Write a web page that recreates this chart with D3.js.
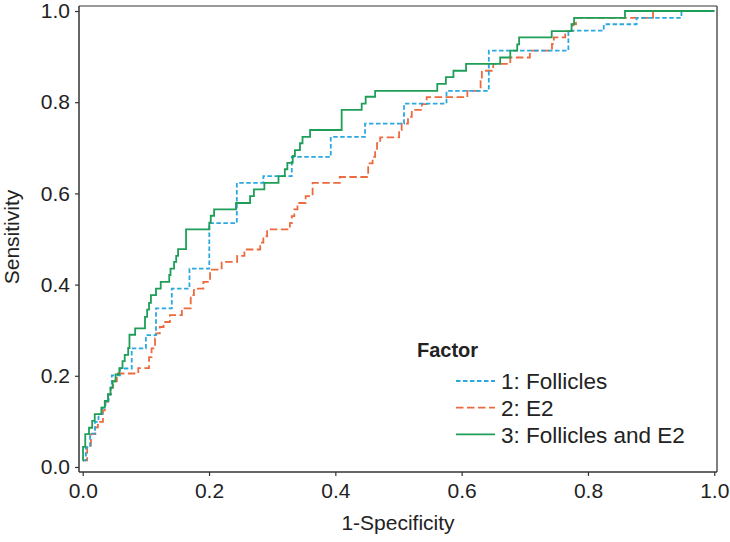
<!DOCTYPE html>
<html>
<head>
<meta charset="utf-8">
<script src="https://cdn.jsdelivr.net/npm/d3@7"></script>
<style>
  html, body { margin: 0; padding: 0; background: #fff; }
  svg { display: block; font-family: "Liberation Sans", Arial, sans-serif; }
</style>
</head>
<body>
<svg id="chart" width="730" height="542"></svg>
<script>
// ---- data (each point: [1-specificity where the curve rises, sensitivity after the rise]) ----
const seriesNames = ["1: Follicles", "2: E2", "3: Follicles and E2"];

const follicles = [
  [0, 0.0145], [0.005, 0.043], [0.0116, 0.073], [0.0195, 0.099], [0.025, 0.116],
  [0.031, 0.130], [0.036, 0.145], [0.041, 0.159], [0.044, 0.174], [0.046, 0.201],
  [0.059, 0.216], [0.0776, 0.260], [0.100, 0.289], [0.116, 0.348], [0.141, 0.391],
  [0.169, 0.435], [0.2004, 0.535], [0.244, 0.623], [0.286, 0.638], [0.331, 0.680],
  [0.3927, 0.724], [0.447, 0.753], [0.5087, 0.797], [0.576, 0.825], [0.643, 0.913],
  [0.769, 0.957], [0.825, 0.971], [0.877, 0.985], [0.948, 1.0], [1.0, 1.0]
];

const e2 = [
  [0, 0.0145], [0.007, 0.044], [0.013, 0.072], [0.020, 0.087], [0.024, 0.099],
  [0.032, 0.124], [0.035, 0.143], [0.040, 0.160], [0.045, 0.174], [0.048, 0.188],
  [0.054, 0.205], [0.088, 0.217], [0.105, 0.241], [0.109, 0.260], [0.1145, 0.282],
  [0.116, 0.293], [0.122, 0.307], [0.128, 0.318], [0.138, 0.333], [0.157, 0.348],
  [0.171, 0.377], [0.176, 0.391], [0.191, 0.406], [0.2016, 0.433], [0.220, 0.450],
  [0.2445, 0.463], [0.256, 0.477], [0.281, 0.492], [0.286, 0.506], [0.292, 0.521],
  [0.328, 0.535], [0.331, 0.550], [0.335, 0.565], [0.340, 0.579], [0.353, 0.594],
  [0.364, 0.623], [0.407, 0.636], [0.452, 0.666], [0.459, 0.680], [0.463, 0.695],
  [0.466, 0.710], [0.471, 0.723], [0.501, 0.739], [0.505, 0.753], [0.515, 0.768],
  [0.521, 0.783], [0.537, 0.796], [0.5446, 0.811], [0.609, 0.825], [0.630, 0.847],
  [0.632, 0.869], [0.650, 0.884], [0.677, 0.898], [0.708, 0.913], [0.743, 0.928],
  [0.746, 0.942], [0.764, 0.956], [0.776, 0.971], [0.781, 0.985], [0.903, 1.0],
  [1.0, 1.0]
];

const folliclesAndE2 = [
  [0, 0.0145], [0.0005, 0.044], [0.004, 0.072], [0.010, 0.086], [0.015, 0.101],
  [0.019, 0.116], [0.0295, 0.130], [0.035, 0.145], [0.040, 0.159], [0.044, 0.174],
  [0.0475, 0.188], [0.052, 0.203], [0.058, 0.217], [0.063, 0.232], [0.0665, 0.246],
  [0.072, 0.261], [0.074, 0.290], [0.083, 0.304], [0.0986, 0.329], [0.102, 0.345],
  [0.105, 0.360], [0.108, 0.377], [0.116, 0.391], [0.1235, 0.406], [0.137, 0.421],
  [0.139, 0.435], [0.1446, 0.450], [0.148, 0.463], [0.151, 0.478], [0.1636, 0.521],
  [0.2004, 0.536], [0.2027, 0.551], [0.208, 0.565], [0.2427, 0.579], [0.265, 0.594],
  [0.271, 0.609], [0.2876, 0.623], [0.310, 0.638], [0.320, 0.653], [0.324, 0.667],
  [0.3325, 0.682], [0.336, 0.695], [0.344, 0.710], [0.348, 0.724], [0.360, 0.739],
  [0.410, 0.783], [0.4417, 0.797], [0.448, 0.812], [0.463, 0.825], [0.5614, 0.840],
  [0.575, 0.855], [0.587, 0.869], [0.607, 0.884], [0.661, 0.898], [0.677, 0.913],
  [0.688, 0.927], [0.691, 0.942], [0.7426, 0.956], [0.774, 0.971], [0.778, 0.985],
  [0.8586, 1.0], [1.0, 1.0]
];

const tickValues = [0, 0.2, 0.4, 0.6, 0.8, 1.0];
const xTitle = "1-Specificity";
const yTitle = "Sensitivity";
const legendTitle = "Factor";

// ---- styles ----
const colors = ["#2aa8df", "#ec6a3e", "#1f9e58"];
const dashes = ["4.5,2.5", "7.5,3.5", null];
const seriesData = [follicles, e2, folliclesAndE2];

// ---- layout ----
const frame = { left: 79, right: 717, top: 6, bottom: 472 };
const fontSize = 21;
const legendFont = 22.5;

const svg = d3.select("#chart");

const x = d3.scaleLinear().domain([-0.0059, 1.0043]).range([frame.left, frame.right]);
const y = d3.scaleLinear().domain([-0.011, 1.011]).range([frame.bottom, frame.top]);

// frame: top and right in grey
svg.append("line").attr("x1", frame.left).attr("x2", frame.right)
  .attr("y1", frame.top).attr("y2", frame.top)
  .attr("stroke", "#777").attr("stroke-width", 1.5);
svg.append("line").attr("x1", frame.right).attr("x2", frame.right)
  .attr("y1", frame.top).attr("y2", frame.bottom)
  .attr("stroke", "#555").attr("stroke-width", 1.5);

// series lines
const line = d3.line().x(d => x(d[0])).y(d => y(d[1])).curve(d3.curveStepAfter);
const order = [1, 0, 2];
order.forEach(i => {
  svg.append("path")
    .datum(seriesData[i])
    .attr("d", line)
    .attr("fill", "none")
    .attr("stroke", colors[i])
    .attr("stroke-width", 1.8)
    .attr("stroke-dasharray", dashes[i]);
});

// axes
const xAxis = d3.axisBottom(x).tickValues(tickValues).tickFormat(d3.format(".1f"))
  .tickSize(4).tickSizeOuter(0).tickPadding(7);
const yAxis = d3.axisLeft(y).tickValues(tickValues).tickFormat(d3.format(".1f"))
  .tickSize(4).tickSizeOuter(0).tickPadding(5);

const gx = svg.append("g").attr("transform", `translate(0,${frame.bottom})`).call(xAxis);
const gy = svg.append("g").attr("transform", `translate(${frame.left},0)`).call(yAxis);
[gx, gy].forEach(g => {
  g.select(".domain").remove();
  g.selectAll(".tick line").attr("stroke", "#333").attr("stroke-width", 1.2);
  g.selectAll(".tick text").attr("fill", "#222")
    .style("font-size", fontSize + "px")
    .style("font-family", "'Liberation Sans', Arial, sans-serif");
});

// left & bottom axis lines (dark)
svg.append("line").attr("x1", frame.left).attr("x2", frame.left)
  .attr("y1", frame.top).attr("y2", frame.bottom)
  .attr("stroke", "#333").attr("stroke-width", 1.5);
svg.append("line").attr("x1", frame.left).attr("x2", frame.right)
  .attr("y1", frame.bottom).attr("y2", frame.bottom)
  .attr("stroke", "#333").attr("stroke-width", 1.5);

// axis titles
svg.append("text")
  .attr("x", (frame.left + frame.right) / 2).attr("y", 530)
  .attr("text-anchor", "middle").attr("fill", "#222")
  .style("font-size", fontSize + "px")
  .text(xTitle);
svg.append("text")
  .attr("transform", `translate(19,${(frame.top + frame.bottom) / 2 - 2}) rotate(-90)`)
  .attr("text-anchor", "middle").attr("fill", "#222")
  .style("font-size", fontSize + "px")
  .text(yTitle);

// legend
const legend = svg.append("g");
legend.append("text")
  .attr("x", 417).attr("y", 357)
  .attr("fill", "#222").attr("font-weight", "bold")
  .style("font-size", "20px")
  .text(legendTitle);
seriesNames.forEach((name, i) => {
  const yy = 381 + i * 26.7;
  legend.append("line")
    .attr("x1", 456).attr("x2", 495).attr("y1", yy).attr("y2", yy)
    .attr("stroke", colors[i]).attr("stroke-width", 1.8)
    .attr("stroke-dasharray", dashes[i]);
  legend.append("text")
    .attr("x", 501).attr("y", yy).attr("dy", "0.36em")
    .attr("fill", "#222")
    .style("font-size", legendFont + "px")
    .text(name);
});
</script>
</body>
</html>
